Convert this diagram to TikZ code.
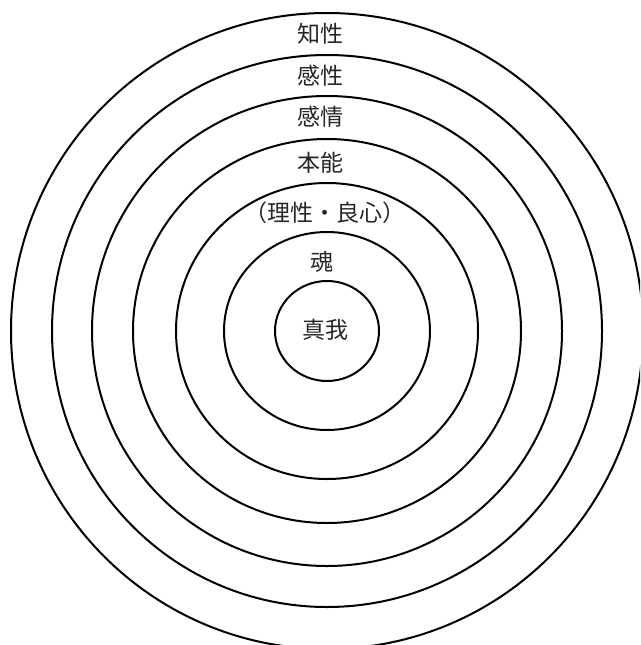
\documentclass[tikz,border=0pt]{standalone}
\usepackage{fontspec}
\newfontfamily\jpfont{Noto Sans CJK JP}
\usetikzlibrary{positioning}
\tikzset{
  ring/.style={draw=black,line width=2pt},
  layer/.style={font=\jpfont\fontsize{23}{26}\selectfont,inner sep=0pt,text=black!85}
}

\begin{document}
\begin{tikzpicture}[x=1pt,y=-1pt]
\useasboundingbox (0,0) rectangle (640,645);
\clip (0,0) rectangle (640,645);
\coordinate (o) at (327,331);
% rings from inside out
\foreach \rx/\ry in {52/50,103/99,151/148,194/192,235/235,275/276,316/318}
  \draw[ring] (o) ellipse [x radius=\rx, y radius=\ry];
\node[layer] (chisei) at (320,34) {知性};
\node[layer] (kansei) at (320,76) {感性};
\node[layer] (kanjo) at (320,117) {感情};
\node[layer] (honno) at (320,163) {本能};
\node[layer] (risei) at (325,213) {（理性・良心）};
\node[layer] (tamashii) at (322,262) {魂};
\node[layer] (shinga) at (325,330) {真我};
\end{tikzpicture}
\end{document}
